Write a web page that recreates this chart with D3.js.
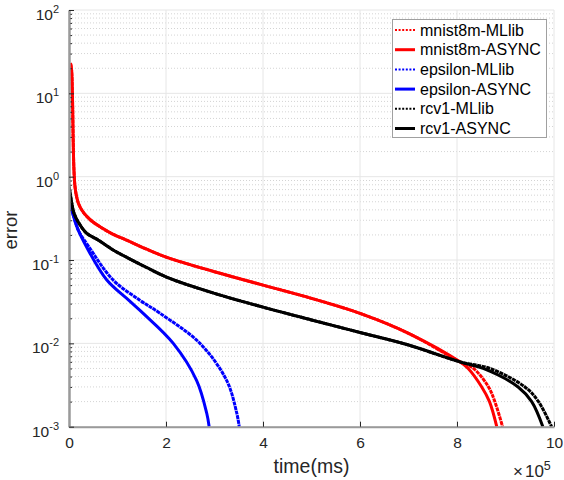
<!DOCTYPE html>
<html>
<head>
<meta charset="utf-8">
<script src="https://cdn.jsdelivr.net/npm/d3@7"></script>
<style>
  body { margin: 0; background: #fff; }
  svg { display: block; font-family: "Liberation Sans", Arial, sans-serif; }
</style>
</head>
<body>
<svg width="564" height="480"></svg>
<script>
// time in units of 1e5 ms, error values
const mnistMllibT = [0.03, 0.05, 0.07, 0.085, 0.10, 0.12, 0.15, 0.2, 0.3, 0.45, 0.64, 0.9, 1.2, 1.6, 2.05, 3, 4, 5, 6, 7, 8.06, 8.34, 8.65, 8.78, 8.94];
const mnistMllibE = [23, 20, 10, 3, 1.3, 0.8, 0.6, 0.47, 0.37, 0.3, 0.25, 0.205, 0.172, 0.135, 0.106, 0.0724, 0.05, 0.0347, 0.0229, 0.0132, 0.006, 0.005, 0.003, 0.002, 0.001];
const mnistAsyncT = [0.03, 0.05, 0.07, 0.085, 0.10, 0.12, 0.15, 0.2, 0.3, 0.45, 0.64, 0.9, 1.2, 1.6, 2.05, 3, 4, 5, 6, 7, 8.06, 8.23, 8.51, 8.67, 8.82];
const mnistAsyncE = [23, 20, 10, 3, 1.3, 0.8, 0.6, 0.47, 0.37, 0.3, 0.25, 0.205, 0.172, 0.135, 0.106, 0.0724, 0.05, 0.0347, 0.0229, 0.0132, 0.006, 0.005, 0.003, 0.002, 0.001];

const epsMllibT = [0, 0.03, 0.076, 0.19, 0.41, 0.91, 1.46, 1.88, 2.70, 3.25, 3.46, 3.51];
const epsMllibE = [0.52, 0.44, 0.363, 0.229, 0.144, 0.0575, 0.033, 0.0229, 0.01, 0.0036, 0.00145, 0.001];
const epsAsyncT = [0, 0.03, 0.076, 0.19, 0.36, 0.78, 1.23, 1.53, 2.15, 2.63, 2.84, 2.89];
const epsAsyncE = [0.52, 0.44, 0.363, 0.229, 0.144, 0.0575, 0.033, 0.0229, 0.01, 0.0036, 0.00145, 0.001];

const rcvMllibT = [0, 0.04, 0.1, 0.2, 0.36, 0.6, 0.91, 1.2, 1.6, 2.05, 3, 4, 5, 6, 7, 8.06, 8.68, 9.40, 9.68, 9.95];
const rcvMllibE = [0.76, 0.55, 0.37, 0.28, 0.21, 0.174, 0.132, 0.107, 0.0813, 0.061, 0.0398, 0.0272, 0.0191, 0.0135, 0.00955, 0.006, 0.005, 0.003, 0.002, 0.001];
const rcvAsyncT = [0, 0.04, 0.1, 0.2, 0.36, 0.6, 0.91, 1.2, 1.6, 2.05, 3, 4, 5, 6, 7, 8.06, 8.54, 9.26, 9.54, 9.77];
const rcvAsyncE = [0.76, 0.55, 0.37, 0.28, 0.21, 0.174, 0.132, 0.107, 0.0813, 0.061, 0.0398, 0.0272, 0.0191, 0.0135, 0.00955, 0.006, 0.005, 0.003, 0.002, 0.001];

const seriesNames = ["mnist8m-MLlib", "mnist8m-ASYNC", "epsilon-MLlib", "epsilon-ASYNC", "rcv1-MLlib", "rcv1-ASYNC"];
const seriesColors = ["#ff0000", "#ff0000", "#0000ff", "#0000ff", "#000000", "#000000"];
const seriesDotted = [true, false, true, false, true, false];
const seriesT = [mnistMllibT, mnistAsyncT, epsMllibT, epsAsyncT, rcvMllibT, rcvAsyncT];
const seriesE = [mnistMllibE, mnistAsyncE, epsMllibE, epsAsyncE, rcvMllibE, rcvAsyncE];

const xTicks = [0, 2, 4, 6, 8, 10];
const yExponents = [-3, -2, -1, 0, 1, 2];

function main(){
  const svg = d3.select("svg");
  const x = d3.scaleLinear().domain([0, 10]).range([69, 554]);
  const y = d3.scaleLog().domain([1e-3, 1e2]).range([426.7, 10]);

  const majors = yExponents.map(e => Math.pow(10, e));
  const minors = [];
  yExponents.slice(0, -1).forEach(e => { for (let m = 2; m <= 9; m++) minors.push(m * Math.pow(10, e)); });

  // grid
  const grid = svg.append("g");
  grid.selectAll(".ymin").data(minors).enter().append("line")
    .attr("x1", x(0)).attr("x2", x(10)).attr("y1", d => y(d)).attr("y2", d => y(d))
    .attr("stroke", "#d4d4d4").attr("stroke-width", 1).attr("stroke-dasharray", "1,2");
  grid.selectAll(".ymaj").data(majors).enter().append("line")
    .attr("x1", x(0)).attr("x2", x(10)).attr("y1", d => y(d)).attr("y2", d => y(d))
    .attr("stroke", "#e6e6e6").attr("stroke-width", 1);
  grid.selectAll(".xmaj").data(xTicks).enter().append("line")
    .attr("x1", d => x(d)).attr("x2", d => x(d)).attr("y1", y(1e-3)).attr("y2", y(1e2))
    .attr("stroke", "#e6e6e6").attr("stroke-width", 1);

  // curves
  svg.append("clipPath").attr("id", "plot").append("rect")
    .attr("x", x(0)).attr("y", y(1e2)).attr("width", x(10) - x(0)).attr("height", y(1e-3) - y(1e2));
  const line = d3.line().x(d => x(d[0])).y(d => y(d[1])).curve(d3.curveCatmullRom.alpha(0.5));
  const curves = svg.append("g").attr("clip-path", "url(#plot)");
  seriesNames.forEach((name, i) => {
    const pts = seriesT[i].map((t, j) => [t, seriesE[i][j]]);
    curves.append("path").datum(pts).attr("d", line)
      .attr("fill", "none").attr("stroke", seriesColors[i]).attr("stroke-width", 3)
      .attr("stroke-dasharray", seriesDotted[i] ? "4,0.7" : null);
  });

  // axes
  const xAxis = d3.axisBottom(x).tickValues(xTicks).tickSizeInner(-5).tickSizeOuter(0)
    .tickPadding(10.5).tickFormat(d3.format("d"));
  const gx = svg.append("g").attr("transform", `translate(0,${y(1e-3)})`).call(xAxis);
  gx.selectAll("text").attr("font-size", 15.5).attr("fill", "#262626").attr("font-family", null);

  const yMinor = d3.axisLeft(y).tickValues(minors).tickSizeInner(-3).tickSizeOuter(0).tickFormat("");
  svg.append("g").attr("transform", `translate(${x(0)},0)`).call(yMinor);
  const yMajor = d3.axisLeft(y).tickValues(majors).tickSizeInner(-5).tickSizeOuter(0).tickFormat("");
  svg.append("g").attr("transform", `translate(${x(0)},0)`).call(yMajor);

  svg.selectAll(".domain").attr("stroke", "#9a9a9a").attr("stroke-width", 2);
  svg.selectAll(".tick line").attr("stroke", "#262626").attr("stroke-width", 1);

  const ylab = svg.append("g").selectAll("text").data(yExponents).enter().append("text")
    .attr("x", 59).attr("y", d => y(Math.pow(10, d)) + 10)
    .attr("text-anchor", "end").attr("font-size", 15.5).attr("fill", "#262626");
  ylab.append("tspan").text("10");
  ylab.append("tspan").attr("dy", -7).attr("font-size", 11).text(d => String(d));

  // labels
  svg.append("text").attr("x", x(5)).attr("y", 472.5).attr("text-anchor", "middle")
    .attr("font-size", 19.5).attr("fill", "#262626").text("time(ms)");
  svg.append("text").attr("transform", "translate(17,230) rotate(-90)").attr("text-anchor", "middle")
    .attr("font-size", 18.5).attr("fill", "#262626").text("error");
  const mult = svg.append("text").attr("x", 513).attr("y", 477).attr("font-size", 17).attr("fill", "#262626");
  mult.append("tspan").text("\u00d7");
  mult.append("tspan").attr("dx", 2).text("10");
  mult.append("tspan").attr("dy", -7).attr("font-size", 12.5).text("5");

  // legend
  const lg = svg.append("g");
  lg.append("rect").attr("x", 392.5).attr("y", 19.5).attr("width", 154).attr("height", 118)
    .attr("fill", "#fff").attr("stroke", "#a0a0a0").attr("stroke-width", 1);
  seriesNames.forEach((name, i) => {
    const ly = 30 + i * 19.7;
    lg.append("line").attr("x1", 395).attr("x2", 415).attr("y1", ly).attr("y2", ly)
      .attr("stroke", seriesColors[i]).attr("stroke-width", seriesDotted[i] ? 2 : 3)
      .attr("stroke-dasharray", seriesDotted[i] ? "2,1.6" : null);
    lg.append("text").attr("x", 420).attr("y", ly + 5.5).attr("font-size", 16).attr("fill", "#000").text(name);
  });
}

main();
</script>
</body>
</html>
